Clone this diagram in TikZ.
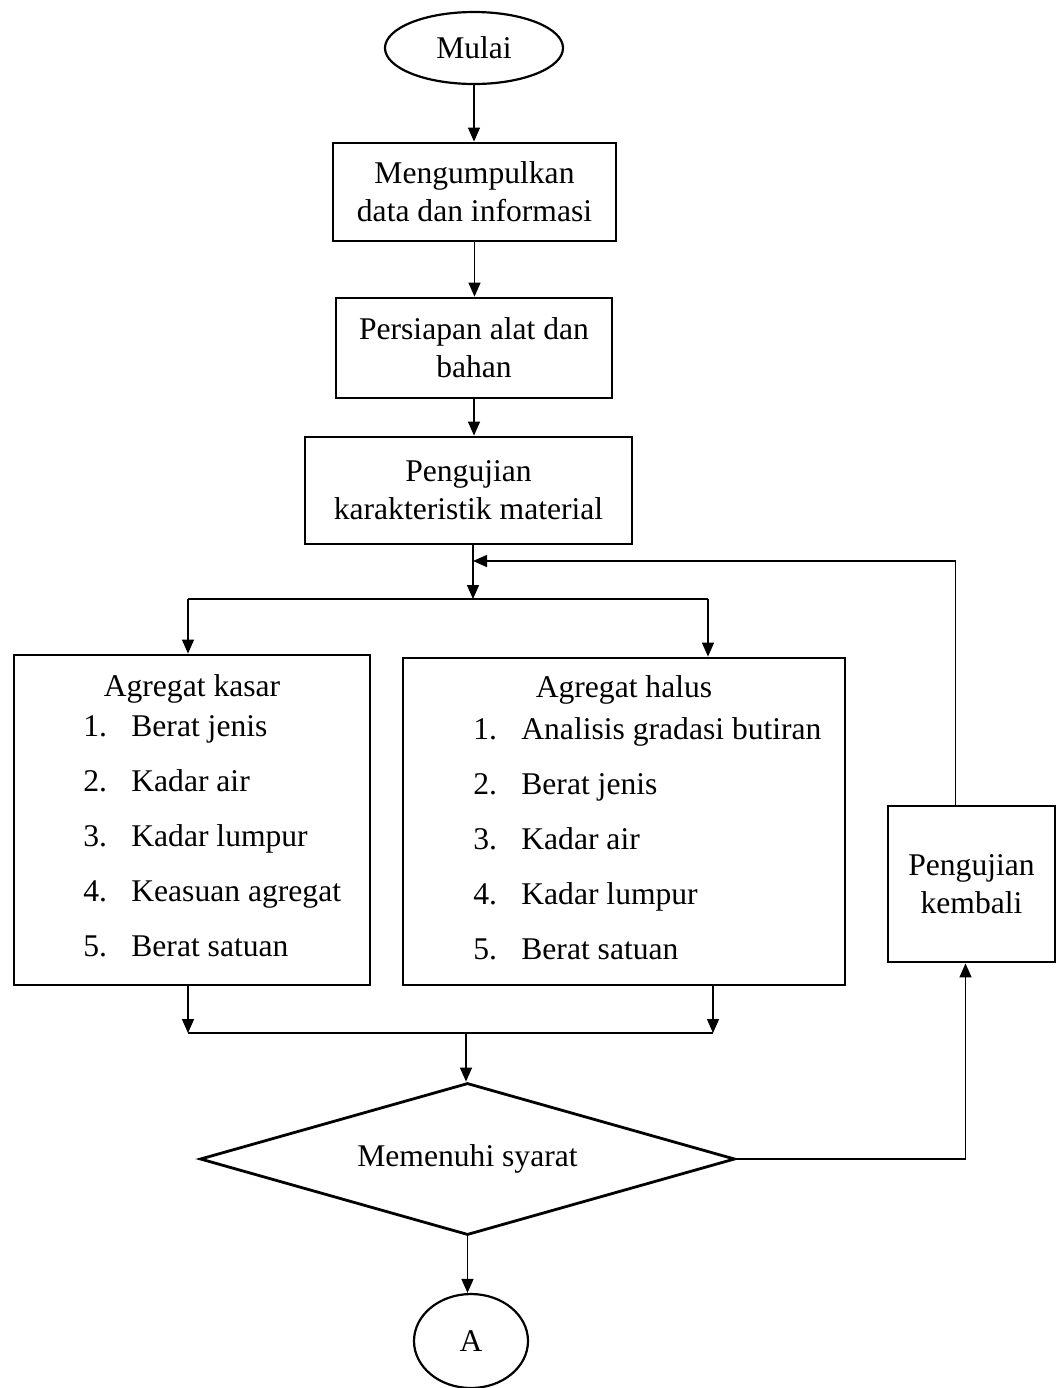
\documentclass[tikz,border=0pt]{standalone}
\usepackage{fontspec}
\setmainfont{Liberation Serif}
\usetikzlibrary{positioning, shapes.geometric, arrows.meta}

\begin{document}
\begin{tikzpicture}[
        x=0.5pt, y=-0.5pt,
        font=\fontsize{15.8pt}{19pt}\selectfont,
        box/.style={rectangle, draw=black, line width=1.4pt, inner sep=0pt, align=center},
        term/.style={ellipse, draw=black, line width=1.1pt, inner sep=0pt},
        decision/.style={diamond, aspect=3.5, draw=black, line width=1.4pt, inner sep=0pt},
        item/.style={anchor=base west, inner sep=0pt},
        arrow/.style={-{Triangle[length=7pt, width=6pt]}, line width=0.7pt},
        bus/.style={line width=1.4pt}
        ]
        \useasboundingbox (0,0) rectangle (1060,1388);

        \node[term, minimum width=89pt, minimum height=36pt] (mulai) at (474,48) {Mulai};
        \node[box, minimum width=141.5pt, minimum height=49pt] (kumpul) at (474.5,192) {Mengumpulkan\\data dan informasi};
        \node[box, minimum width=138pt, minimum height=50pt] (persiapan) at (474,348) {Persiapan alat dan\\bahan};
        \node[box, minimum width=163.5pt, minimum height=53.5pt] (uji) at (468.5,490.5) {Pengujian\\karakteristik material};

        % cabang agregat
        \coordinate (split) at (473,599);
        \coordinate (splitL) at (188,599);
        \coordinate (splitR) at (708,599);
        \node[box, minimum width=178pt, minimum height=165pt] (kasar) at (192,820) {};
        \node[box, minimum width=221pt, minimum height=163.5pt] (halus) at (624,821.5) {};
        \node (kasarjudul) at (192,689) {Agregat kasar};
        \node (halusjudul) at (624,690) {Agregat halus};
        \foreach \t [count=\i] in {Berat jenis, Kadar air, Kadar lumpur, Keasuan agregat, Berat satuan}
            \node[item] (ks\i) at (83,681+55*\i) {\makebox[24pt][l]{\i.}\t};
        \foreach \t [count=\i] in {Analisis gradasi butiran, Berat jenis, Kadar air, Kadar lumpur, Berat satuan}
            \node[item] (hl\i) at (473,684+55*\i) {\makebox[24pt][l]{\i.}\t};

        \node[box, minimum width=83.5pt, minimum height=78pt] (kembali) at (971.5,884) {Pengujian\\kembali};

        \coordinate (merge) at (466,1033);
        \coordinate (mergeL) at (188,1033);
        \coordinate (mergeR) at (713,1033);
        \node[decision, minimum width=267.5pt, minimum height=76pt] (syarat) at (467.5,1159) {Memenuhi syarat};
        \node[term, minimum width=57pt, minimum height=47pt] (a) at (471,1341) {A};
        \coordinate (fb) at (473,561);

        \draw[arrow] (mulai.south) -- (mulai.south |- kumpul.north);
        \draw[arrow] (kumpul.south) -- (kumpul.south |- persiapan.north);
        \draw[arrow] (persiapan.south) -- (persiapan.south |- uji.north);
        \draw[arrow] (split |- uji.south) -- (split);
        \draw[bus] (splitL) -- (splitR);
        \draw[arrow] (splitL) -- (splitL |- kasar.north);
        \draw[arrow] (splitR) -- (splitR |- halus.north);
        \draw[arrow] (mergeL |- kasar.south) -- (mergeL);
        \draw[arrow] (mergeR |- halus.south) -- (mergeR);
        \draw[bus] (mergeL) -- (mergeR);
        \draw[arrow] (merge) -- (merge |- syarat.north);
        \draw[arrow] (syarat.south) -- (syarat.south |- a.north);
        \draw[arrow] (syarat.east) -| ([xshift=-3pt]kembali.south);
        \draw[arrow] ([xshift=-8pt]kembali.north) |- (fb);
    \end{tikzpicture}
\end{document}
